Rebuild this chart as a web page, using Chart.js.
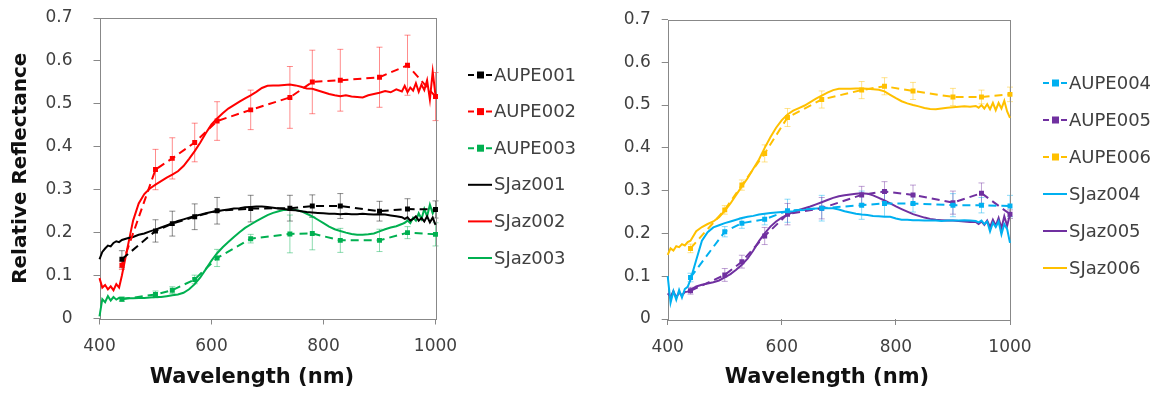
<!DOCTYPE html>
<html>
<head>
<meta charset="utf-8">
<script src="https://cdn.jsdelivr.net/npm/chart.js@4"></script>
<style>
  body { margin: 0; background: #fff; }
  #wrap { position: relative; width: 1157px; height: 394px; }
  canvas { position: absolute; top: 0; }
  #left { left: 0; }
  #right { left: 580px; }
</style>
</head>
<body>
<div id="wrap">
  <canvas id="left" width="580" height="394"></canvas>
  <canvas id="right" width="577" height="394"></canvas>
</div>
<script>
// filter wavelengths of the AUPE camera (nm)
const AUPE_NM = [440, 500, 530, 570, 610, 670, 740, 780, 830, 900, 950, 1000];

const AUPE001 = [0.138, 0.204, 0.221, 0.237, 0.251, 0.256, 0.257, 0.262, 0.262, 0.250, 0.255, 0.254];
const ERR001  = [0.020, 0.026, 0.029, 0.030, 0.031, 0.031, 0.030, 0.026, 0.029, 0.023, 0.024, 0.020];
const AUPE002 = [0.124, 0.347, 0.373, 0.410, 0.460, 0.486, 0.515, 0.551, 0.555, 0.562, 0.590, 0.517];
const ERR002  = [0.010, 0.047, 0.048, 0.045, 0.045, 0.046, 0.072, 0.074, 0.072, 0.070, 0.070, 0.056];
const AUPE003 = [0.045, 0.056, 0.066, 0.091, 0.141, 0.186, 0.197, 0.198, 0.182, 0.182, 0.200, 0.196];
const ERR003  = [0.005, 0.008, 0.008, 0.010, 0.020, 0.010, 0.044, 0.038, 0.028, 0.026, 0.014, 0.027];
const AUPE004 = [0.097, 0.204, 0.224, 0.233, 0.253, 0.259, 0.266, 0.270, 0.270, 0.266, 0.266, 0.264];
const ERR004  = [0.010, 0.012, 0.012, 0.013, 0.027, 0.030, 0.033, 0.030, 0.020, 0.027, 0.018, 0.025];
const AUPE005 = [0.066, 0.103, 0.134, 0.194, 0.245, 0.259, 0.290, 0.298, 0.290, 0.272, 0.294, 0.245];
const ERR005  = [0.008, 0.015, 0.015, 0.020, 0.025, 0.025, 0.020, 0.023, 0.023, 0.027, 0.024, 0.010];
const AUPE006 = [0.165, 0.255, 0.313, 0.387, 0.471, 0.513, 0.535, 0.544, 0.533, 0.519, 0.519, 0.525];
const ERR006  = [0.010, 0.010, 0.012, 0.020, 0.021, 0.020, 0.020, 0.020, 0.020, 0.020, 0.016, 0.017];

// spectrometer wavelengths (nm)
const SPEC_NM = [400, 405, 410, 415, 420, 425, 430, 435, 440,
  450, 460, 470, 480, 490, 500, 510, 520, 530, 540, 550, 560, 570, 580, 590, 600,
  610, 620, 630, 640, 650, 660, 670, 680, 690, 700, 710, 720, 730, 740, 750, 760,
  770, 780, 790, 800, 810, 820, 830, 840, 850, 860, 870, 880, 890, 900, 910, 920,
  930, 940, 945, 950, 955, 960, 965, 970, 975, 980, 985, 990, 995, 1000];

const SJAZ001 = [0.138, 0.155, 0.163, 0.170, 0.168, 0.176, 0.180, 0.178, 0.183,
  0.187, 0.190, 0.195, 0.198, 0.203, 0.207, 0.212, 0.217, 0.222, 0.227, 0.231, 0.235, 0.239, 0.242, 0.245, 0.248,
  0.250, 0.252, 0.254, 0.256, 0.257, 0.259, 0.260, 0.261, 0.261, 0.260, 0.258, 0.256, 0.255, 0.253, 0.252, 0.250,
  0.248, 0.247, 0.246, 0.245, 0.244, 0.244, 0.243, 0.244, 0.243, 0.243, 0.244, 0.243, 0.242, 0.243, 0.242, 0.240,
  0.238, 0.236, 0.232, 0.236, 0.228, 0.232, 0.238, 0.228, 0.234, 0.226, 0.238, 0.224, 0.235, 0.218];
const SJAZ002 = [0.094, 0.072, 0.078, 0.068, 0.075, 0.066, 0.080, 0.072, 0.100,
  0.165, 0.228, 0.268, 0.290, 0.303, 0.312, 0.320, 0.328, 0.335, 0.343, 0.355, 0.372, 0.390, 0.410, 0.432, 0.452,
  0.466, 0.478, 0.489, 0.497, 0.505, 0.513, 0.520, 0.528, 0.537, 0.542, 0.543, 0.543, 0.544, 0.545, 0.543, 0.540,
  0.536, 0.535, 0.531, 0.527, 0.523, 0.520, 0.518, 0.520, 0.517, 0.516, 0.515, 0.520, 0.523, 0.526, 0.530, 0.527,
  0.534, 0.529, 0.542, 0.527, 0.538, 0.531, 0.548, 0.528, 0.545, 0.532, 0.555, 0.510, 0.575, 0.520];
const SJAZ003 = [0.005, 0.045, 0.038, 0.052, 0.042, 0.050, 0.044, 0.048, 0.046,
  0.047, 0.047, 0.048, 0.048, 0.049, 0.050, 0.050, 0.052, 0.054, 0.056, 0.060, 0.068, 0.080, 0.096, 0.115, 0.135,
  0.152, 0.166, 0.178, 0.190, 0.201, 0.211, 0.219, 0.227, 0.234, 0.241, 0.246, 0.250, 0.253, 0.254, 0.253, 0.250,
  0.244, 0.238, 0.230, 0.222, 0.214, 0.208, 0.204, 0.200, 0.197, 0.195, 0.195, 0.196, 0.198, 0.203, 0.208, 0.212,
  0.215, 0.220, 0.223, 0.228, 0.222, 0.235, 0.228, 0.245, 0.232, 0.255, 0.238, 0.265, 0.245, 0.258];
const SJAZ004 = [0.100, 0.038, 0.065, 0.045, 0.068, 0.050, 0.070, 0.075, 0.092,
  0.138, 0.183, 0.203, 0.214, 0.219, 0.224, 0.228, 0.232, 0.236, 0.239, 0.241, 0.244, 0.246, 0.248, 0.249, 0.250,
  0.251, 0.252, 0.254, 0.255, 0.257, 0.258, 0.259, 0.259, 0.259, 0.256, 0.252, 0.249, 0.246, 0.244, 0.243, 0.241,
  0.240, 0.239, 0.239, 0.235, 0.232, 0.232, 0.231, 0.231, 0.230, 0.230, 0.230, 0.229, 0.230, 0.230, 0.230, 0.231,
  0.230, 0.229, 0.226, 0.230, 0.222, 0.228, 0.205, 0.225, 0.215, 0.228, 0.198, 0.222, 0.210, 0.178];
const SJAZ005 = [0.060, 0.052, 0.065, 0.050, 0.062, 0.055, 0.063, 0.064, 0.068,
  0.076, 0.080, 0.083, 0.086, 0.090, 0.097, 0.105, 0.115, 0.127, 0.141, 0.160, 0.182, 0.200, 0.216, 0.228, 0.237,
  0.244, 0.250, 0.255, 0.259, 0.263, 0.268, 0.273, 0.278, 0.283, 0.287, 0.289, 0.291, 0.293, 0.294, 0.293, 0.289,
  0.283, 0.277, 0.270, 0.263, 0.257, 0.251, 0.245, 0.241, 0.237, 0.234, 0.232, 0.231, 0.230, 0.230, 0.229, 0.228,
  0.227, 0.227, 0.222, 0.228, 0.220, 0.230, 0.215, 0.232, 0.218, 0.236, 0.212, 0.240, 0.218, 0.245];
const SJAZ006 = [0.150, 0.165, 0.160, 0.170, 0.168, 0.175, 0.172, 0.180, 0.183,
  0.205, 0.215, 0.222, 0.228, 0.238, 0.253, 0.270, 0.290, 0.310, 0.329, 0.351, 0.373, 0.400, 0.425, 0.447, 0.465,
  0.478, 0.487, 0.493, 0.499, 0.507, 0.515, 0.522, 0.529, 0.535, 0.538, 0.538, 0.538, 0.539, 0.539, 0.538, 0.537,
  0.536, 0.532, 0.524, 0.516, 0.509, 0.504, 0.500, 0.497, 0.493, 0.491, 0.490, 0.492, 0.494, 0.495, 0.496, 0.497,
  0.496, 0.498, 0.494, 0.500, 0.492, 0.502, 0.490, 0.505, 0.488, 0.505, 0.492, 0.510, 0.485, 0.470];

const Y_TICK_LABELS = ['0', '0.1', '0.2', '0.3', '0.4', '0.5', '0.6', '0.7'];

const FONT = '"DejaVu Sans", sans-serif';
const TEXT = '#404040';
const AXIS = '#888888';

function pts(xs, ys) {
    return xs.map((x, i) => ({ x: x, y: ys[i] }));
}

function fade(hex, a) {
    let r = parseInt(hex.slice(1, 3), 16), g = parseInt(hex.slice(3, 5), 16), b = parseInt(hex.slice(5, 7), 16);
    return `rgba(${r},${g},${b},${a})`;
}

function aupe(label, ys, errs, color) {
    return {
        label: label, data: pts(AUPE_NM, ys), errors: errs,
        borderColor: color, backgroundColor: color, borderWidth: 2, borderDash: [8, 5],
        pointStyle: 'rect', pointRadius: 3.5, pointBackgroundColor: color, pointBorderWidth: 0,
        clip: 8
    };
}

function sjaz(label, ys, color) {
    return {
        label: label, data: pts(SPEC_NM, ys),
        borderColor: color, backgroundColor: color, borderWidth: 2, pointRadius: 0, tension: 0,
        clip: 4
    };
}

// error bars under the lines
const errorBars = {
    id: 'errorBars',
    beforeDatasetsDraw(chart) {
        let ctx = chart.ctx, xs = chart.scales.x, ys = chart.scales.y;
        ctx.save();
        chart.data.datasets.forEach(ds => {
            if (!ds.errors) return;
            ctx.strokeStyle = fade(ds.borderColor, 0.45);
            ctx.lineWidth = 1;
            ds.data.forEach((p, i) => {
                let x = xs.getPixelForValue(p.x);
                let y1 = ys.getPixelForValue(p.y + ds.errors[i]);
                let y2 = ys.getPixelForValue(p.y - ds.errors[i]);
                ctx.beginPath();
                ctx.moveTo(x, y1); ctx.lineTo(x, y2);
                ctx.moveTo(x - 3, y1); ctx.lineTo(x + 3, y1);
                ctx.moveTo(x - 3, y2); ctx.lineTo(x + 3, y2);
                ctx.stroke();
            });
        });
        ctx.restore();
    }
};

// box round the plot area and the x axis title
const frame = {
    id: 'frame',
    beforeDatasetsDraw(chart, args, opts) {
        let a = chart.chartArea, ctx = chart.ctx;
        ctx.save();
        ctx.strokeStyle = AXIS;
        ctx.lineWidth = 1;
        ctx.strokeRect(Math.round(a.left) + 0.5, Math.round(a.top) + 0.5, Math.round(a.right - a.left), Math.round(a.bottom - a.top));
        ctx.fillStyle = '#111';
        ctx.font = `bold 21px ${FONT}`;
        ctx.textAlign = 'center';
        ctx.textBaseline = 'middle';
        ctx.fillText('Wavelength (nm)', opts.titleX, opts.titleY);
        ctx.restore();
    }
};

// legend to the right of the plot: line sample with marker, then name
const sideLegend = {
    id: 'sideLegend',
    afterDraw(chart, args, opts) {
        let ctx = chart.ctx;
        ctx.save();
        chart.data.datasets.forEach((ds, i) => {
            let y = opts.top + i * opts.gap;
            ctx.strokeStyle = ds.borderColor;
            ctx.lineWidth = 2;
            ctx.setLineDash(ds.borderDash ? [6, 3] : []);
            ctx.beginPath();
            ctx.moveTo(opts.x, y); ctx.lineTo(opts.x + 24, y);
            ctx.stroke();
            if (ds.pointRadius > 0) {
                ctx.fillStyle = ds.borderColor;
                ctx.fillRect(opts.x + 9, y - 3.5, 7, 7);
            }
            ctx.setLineDash([]);
            ctx.fillStyle = TEXT;
            ctx.font = `18px ${FONT}`;
            ctx.textBaseline = 'middle';
            ctx.fillText(ds.label, opts.x + 26, y + 1);
        });
        ctx.restore();
    }
};

function makeChart(id, datasets, o) {
    return new Chart(document.getElementById(id).getContext('2d'), {
        type: 'line',
        data: { datasets: datasets },
        plugins: [errorBars, frame, sideLegend],
        options: {
            responsive: false,
            animation: false,
            layout: { padding: { top: o.top, right: o.right, left: 0, bottom: 0 } },
            plugins: {
                legend: { display: false },
                tooltip: { enabled: false },
                sideLegend: o.legend,
                frame: o.title
            },
            scales: {
                x: {
                    type: 'linear', min: 400, max: 1000,
                    afterFit: s => { s.height = o.xHeight; s.paddingLeft = 0; s.paddingRight = 0; },
                    border: { display: false },
                    grid: { drawOnChartArea: false, tickLength: 6, color: AXIS },
                    ticks: { stepSize: 200, padding: 12, color: TEXT, font: { family: FONT, size: 17 },
                             callback: v => String(v) },
                    title: { display: false }
                },
                y: {
                    min: 0, max: 0.7,
                    afterFit: s => { s.width = o.yWidth; s.paddingTop = 0; s.paddingBottom = 0; },
                    border: { display: false },
                    grid: { drawOnChartArea: false, tickLength: 6, color: AXIS },
                    ticks: { stepSize: 0.1, padding: o.yPad, color: TEXT, font: { family: FONT, size: 17 },
                             callback: v => Y_TICK_LABELS[Math.round(v * 10)] },
                    title: { display: o.yTitle, text: 'Relative Reflectance', color: '#111', padding: { top: 9, bottom: 0 },
                             font: { family: FONT, size: 20, weight: 'bold' } }
                }
            }
        }
    });
}

makeChart('left', [
    aupe('AUPE001', AUPE001, ERR001, '#000000'),
    aupe('AUPE002', AUPE002, ERR002, '#FF0000'),
    aupe('AUPE003', AUPE003, ERR003, '#00B050'),
    sjaz('SJaz001', SJAZ001, '#000000'),
    sjaz('SJaz002', SJAZ002, '#FF0000'),
    sjaz('SJaz003', SJAZ003, '#00B050')
], { top: 18, right: 144.5, xHeight: 75.5, yWidth: 99.5, yPad: 21, yTitle: true,
     legend: { x: 468, top: 75, gap: 36.6 }, title: { titleX: 252, titleY: 378 } });

makeChart('right', [
    aupe('AUPE004', AUPE004, ERR004, '#00B0F0'),
    aupe('AUPE005', AUPE005, ERR005, '#7030A0'),
    aupe('AUPE006', AUPE006, ERR006, '#FFC000'),
    sjaz('SJaz004', SJAZ004, '#00B0F0'),
    sjaz('SJaz005', SJAZ005, '#7030A0'),
    sjaz('SJaz006', SJAZ006, '#FFC000')
], { top: 19.5, right: 147, xHeight: 75, yWidth: 87.7, yPad: 11, yTitle: false,
     legend: { x: 463, top: 83, gap: 37 }, title: { titleX: 247, titleY: 378 } });
</script>
</body>
</html>
